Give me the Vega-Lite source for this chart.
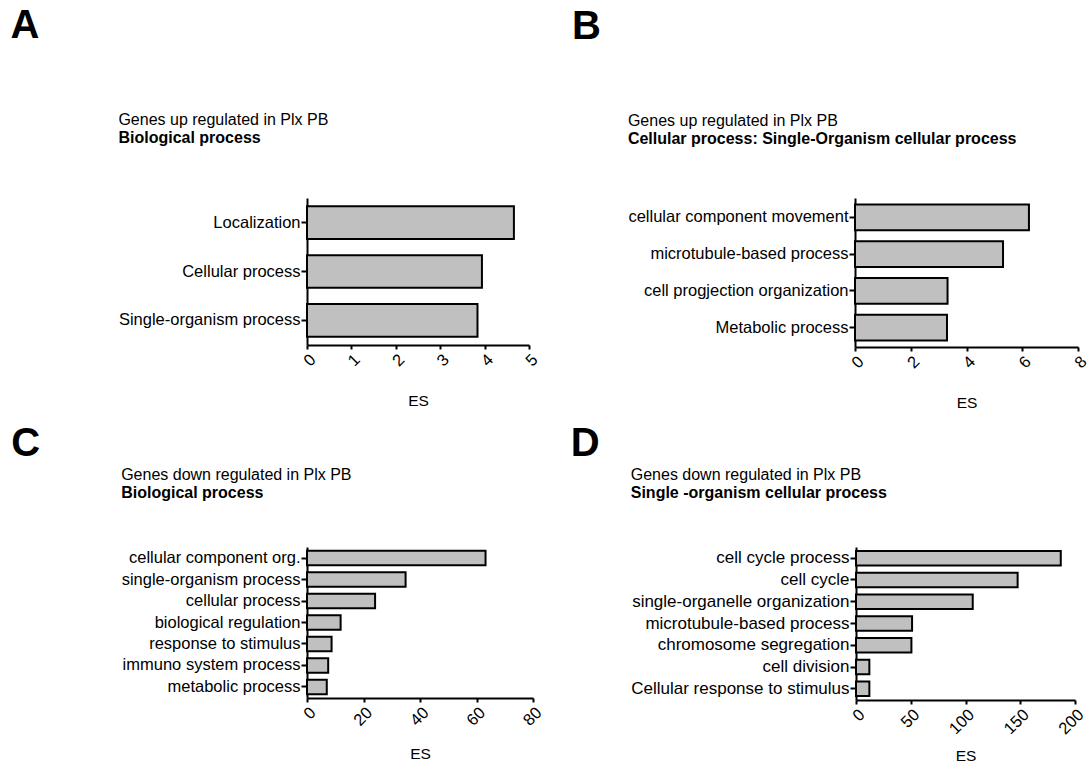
{
  "$schema": "https://vega.github.io/schema/vega-lite/v6.json",
  "background": "white",
  "padding": {"left": 10, "top": 6, "right": 3, "bottom": 3},
  "config": {
    "font": "Liberation Sans",
    "view": {"stroke": null},
    "axis": {
      "grid": false,
      "domainColor": "black",
      "domainWidth": 2,
      "tickColor": "black",
      "tickWidth": 2,
      "labelColor": "black",
      "labelFont": "Liberation Sans",
      "labelFontSize": 16.5,
      "titleFont": "Liberation Sans",
      "titleFontSize": 15.5,
      "titleFontWeight": "normal",
      "titleColor": "black"
    },
    "axisX": {"tickSize": 4, "labelAngle": -45, "labelPadding": 2, "titlePadding": 24, "minExtent": 24, "maxExtent": 24},
    "axisY": {"tickSize": 6, "labelPadding": 1, "title": null, "labelLimit": 400},
    "bar": {"fill": "#c0c0c0", "stroke": "black", "strokeWidth": 2}
  },
  "datasets": {
    "A": [
      {"term": "Localization", "ES": 4.66},
      {"term": "Cellular process", "ES": 3.94},
      {"term": "Single-organism process", "ES": 3.84}
    ],
    "B": [
      {"term": "cellular component movement", "ES": 6.24},
      {"term": "microtubule-based process", "ES": 5.31},
      {"term": "cell progjection organization", "ES": 3.32},
      {"term": "Metabolic process ", "ES": 3.30}
    ],
    "C": [
      {"term": "cellular component org.", "ES": 63.2},
      {"term": "single-organism process", "ES": 34.9},
      {"term": "cellular process", "ES": 24.1},
      {"term": "biological regulation", "ES": 11.9},
      {"term": "response to stimulus", "ES": 8.7},
      {"term": "immuno system process", "ES": 7.5},
      {"term": "metabolic process", "ES": 7.0}
    ],
    "D": [
      {"term": "cell cycle process", "ES": 187},
      {"term": "cell cycle", "ES": 147.6},
      {"term": "single-organelle organization", "ES": 106.6},
      {"term": "microtubule-based process", "ES": 51.2},
      {"term": "chromosome segregation", "ES": 50.6},
      {"term": "cell division", "ES": 12.2},
      {"term": "Cellular response to stimulus", "ES": 12.2}
    ]
  },
  "vconcat": [
    {
      "spacing": 30,
      "hconcat": [
        {
          "title": {"text": "A", "fontSize": 40, "fontWeight": "bold", "anchor": "start", "frame": "bounds", "dx": -108, "offset": 66, "color": "black"},
          "vconcat": [
            {
              "data": {"name": "A"},
              "title": {"text": "Genes up regulated in Plx PB", "subtitle": "Biological process", "fontSize": 16, "fontWeight": "normal", "subtitleFontSize": 16, "subtitleFontWeight": "bold", "subtitleColor": "black", "subtitlePadding": 2, "anchor": "start", "frame": "bounds", "offset": 52, "color": "black"},
              "width": 222,
              "height": 147,
              "mark": {"type": "bar"},
              "encoding": {
                "y": {"field": "term", "type": "nominal", "sort": null, "scale": {"paddingInner": 0.33, "paddingOuter": 0.17}},
                "x": {"field": "ES", "type": "quantitative", "title": "ES", "scale": {"domain": [0, 5], "nice": false}, "axis": {"values": [0, 1, 2, 3, 4, 5]}}
              }
            }
          ]
        },
        {
          "title": {"text": "B", "fontSize": 40, "fontWeight": "bold", "anchor": "start", "frame": "bounds", "dx": -56, "offset": 66, "color": "black"},
          "vconcat": [
            {
              "data": {"name": "B"},
              "title": {"text": "Genes up regulated in Plx PB", "subtitle": "Cellular  process: Single-Organism cellular process", "fontSize": 16, "fontWeight": "normal", "subtitleFontSize": 16, "subtitleFontWeight": "bold", "subtitleColor": "black", "subtitlePadding": 2, "anchor": "start", "frame": "bounds", "offset": 51, "color": "black"},
              "width": 223,
              "height": 149,
              "mark": {"type": "bar"},
              "encoding": {
                "y": {"field": "term", "type": "nominal", "sort": null, "scale": {"paddingInner": 0.3, "paddingOuter": 0.18}},
                "x": {"field": "ES", "type": "quantitative", "title": "ES", "scale": {"domain": [0, 8], "nice": false}, "axis": {"values": [0, 2, 4, 6, 8]}}
              }
            }
          ]
        }
      ]
    },
    {
      "spacing": 25,
      "hconcat": [
        {
          "title": {"text": "C", "fontSize": 40, "fontWeight": "bold", "anchor": "start", "frame": "bounds", "dx": -110, "offset": 3, "color": "black"},
          "vconcat": [
            {
              "data": {"name": "C"},
              "title": {"text": "Genes down regulated in Plx PB", "subtitle": "Biological process", "fontSize": 16, "fontWeight": "normal", "subtitleFontSize": 16, "subtitleFontWeight": "bold", "subtitleColor": "black", "subtitlePadding": 2, "anchor": "start", "frame": "bounds", "offset": 46, "color": "black"},
              "width": 226,
              "height": 151,
              "mark": {"type": "bar"},
              "encoding": {
                "y": {"field": "term", "type": "nominal", "sort": null, "scale": {"paddingInner": 0.33, "paddingOuter": 0.18}},
                "x": {"field": "ES", "type": "quantitative", "title": "ES", "scale": {"domain": [0, 80], "nice": false}, "axis": {"values": [0, 20, 40, 60, 80]}}
              }
            }
          ]
        },
        {
          "title": {"text": "D", "fontSize": 40, "fontWeight": "bold", "anchor": "start", "frame": "bounds", "dx": -60, "offset": 3, "color": "black"},
          "vconcat": [
            {
              "data": {"name": "D"},
              "title": {"text": "Genes down regulated in Plx PB", "subtitle": "Single -organism cellular process", "fontSize": 16, "fontWeight": "normal", "subtitleFontSize": 16, "subtitleFontWeight": "bold", "subtitleColor": "black", "subtitlePadding": 2, "anchor": "start", "frame": "bounds", "offset": 46, "color": "black"},
              "width": 219,
              "height": 153,
              "mark": {"type": "bar"},
              "encoding": {
                "y": {"field": "term", "type": "nominal", "sort": null, "scale": {"paddingInner": 0.33, "paddingOuter": 0.18}, "axis": {"labelFontSize": 17}},
                "x": {"field": "ES", "type": "quantitative", "title": "ES", "scale": {"domain": [0, 200], "nice": false}, "axis": {"values": [0, 50, 100, 150, 200]}}
              }
            }
          ]
        }
      ]
    }
  ],
  "spacing": 13
}
